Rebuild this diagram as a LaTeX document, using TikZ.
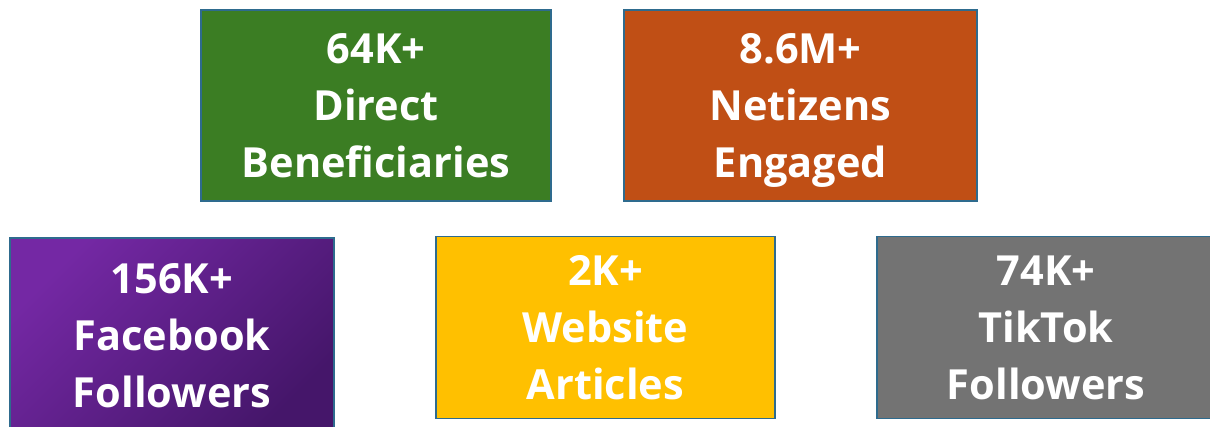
\documentclass[tikz,border=0pt]{standalone}
\usepackage{fontspec}
\setmainfont{Open Sans}
\usepackage{tikz}
\usetikzlibrary{positioning}

\definecolor{statgreen}{HTML}{3B7D23}
\definecolor{statorange}{HTML}{C04F15}
\definecolor{statyellow}{HTML}{FFC000}
\definecolor{statgrey}{HTML}{737373}
\definecolor{statpurplea}{HTML}{7428A4}
\definecolor{statpurpleb}{HTML}{45166A}
\definecolor{statedge}{HTML}{2E6B8E}

\begin{document}
\begin{tikzpicture} [
	x=1pt,y=-1pt,
	stat box/.style={
		rectangle,draw=statedge,line width=1.3pt,inner sep=0pt,
		text=white,align=center,text depth=0pt,
		font=\fontsize{41.5}{57}\selectfont\bfseries},
	stat green/.style={stat box,fill=statgreen},
	stat orange/.style={stat box,fill=statorange},
	stat purple/.style={stat box,top color=statpurplea,
		bottom color=statpurpleb,shading angle=45},
	stat yellow/.style={stat box,fill=statyellow},
	stat grey/.style={stat box,fill=statgrey}]
\useasboundingbox (0,0) rectangle (1210,427);
\clip (0,0) rectangle (1210,427);
\node[stat green,minimum width=350,minimum height=191]	(direct) 		at (376,105.5) {64K+\\Direct\\Beneficiaries};
\node[stat orange,minimum width=353,minimum height=191]	(netizens) 	at (800.5,105.5) {8.6M+\\Netizens\\Engaged};
\node[stat purple,minimum width=324,minimum height=196]	(facebook) 	at (172,336) {156K+\\Facebook\\Followers};
\node[stat yellow,minimum width=339,minimum height=182.5]	(website) 	at (605.5,327.5) {2K+\\Website\\Articles};
\node[stat grey,minimum width=338,minimum height=182.5]	(tiktok) 		at (1046,327.5) {74K+\\TikTok\\Followers};
\end{tikzpicture}
\end{document}
